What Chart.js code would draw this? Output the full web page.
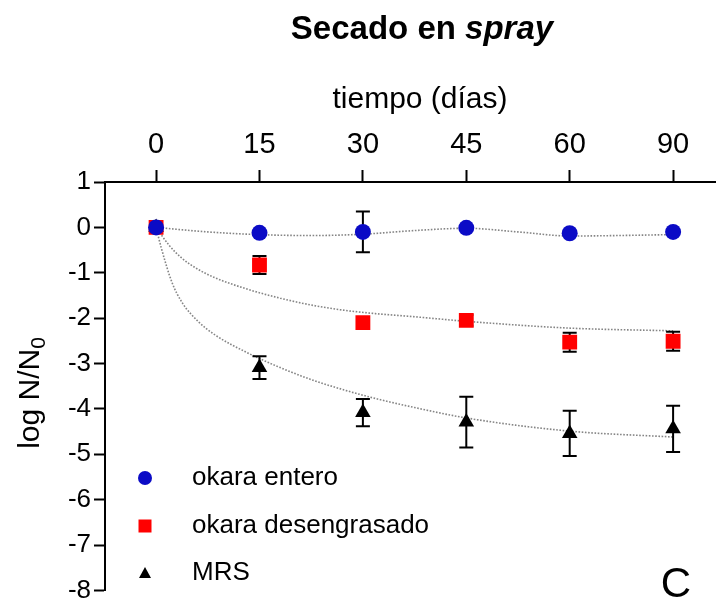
<!DOCTYPE html>
<html>
<head>
<meta charset="utf-8">
<script src="https://cdn.jsdelivr.net/npm/chart.js@4.4.1/dist/chart.umd.min.js"></script>
<style>
  html, body { margin: 0; padding: 0; background: #fff; }
  #wrap { width: 726px; height: 609px; }
</style>
</head>
<body>
<div id="wrap"><canvas id="c" width="726" height="609"></canvas></div>
<script>
// Storage time points (days) and y-axis ticks
const days = ['0', '15', '30', '45', '60', '90'];
const yTicks = [1, 0, -1, -2, -3, -4, -5, -6, -7, -8];

// Mean log N/N0 and error (±) for each medium
const okaraEntero = [0, -0.12, -0.10, -0.01, -0.13, -0.10];
const okaraEnteroErr = [0, 0, 0.45, 0, 0, 0];
const okaraDesengrasado = [0, -0.83, -2.10, -2.05, -2.53, -2.51];
const okaraDesengrasadoErr = [0, 0.20, 0, 0.12, 0.21, 0.21];
const mrs = [0, -3.09, -4.08, -4.29, -4.54, -4.44];
const mrsErr = [0, 0.25, 0.30, 0.56, 0.50, 0.51];

// Fitted inactivation curves (position on the time axis, log N/N0)
const fitEnteroX = [0, 0.5, 1, 1.5, 2, 2.5, 3, 3.5, 4, 5];
const fitEnteroY = [0, -0.10, -0.16, -0.18, -0.15, -0.07, -0.02, -0.10, -0.19, -0.16];
const fitDesengX = [0, 0.124, 0.25, 0.41, 0.57, 0.88, 1.2, 1.52, 1.83, 2.12, 2.5, 3, 4, 5];
const fitDesengY = [0, -0.39, -0.68, -0.93, -1.11, -1.36, -1.56, -1.72, -1.83, -1.90, -1.97, -2.07, -2.22, -2.28];
const fitMrsX = [0, 0.05, 0.155, 0.25, 0.41, 0.57, 0.88, 1.2, 1.52, 1.83, 2.12, 2.5, 3, 4, 5];
const fitMrsY = [0, -0.45, -1.22, -1.65, -2.08, -2.37, -2.76, -3.09, -3.37, -3.59, -3.77, -3.97, -4.20, -4.49, -4.62];

const FONT = '"Liberation Sans", Arial, Helvetica, sans-serif';
const BLUE = '#0b0bc6';
const RED = '#ff0000';
const BLACK = '#000000';

const pts = (ys) => ys.map((y, i) => ({ x: i, y }));
const curve = (xs, ys) => xs.map((x, i) => ({ x, y: ys[i] }));

const fitStyle = {
  showLine: true,
  pointRadius: 0,
  borderColor: 'rgba(120,120,120,0.9)',
  borderWidth: 1.6,
  borderDash: [1.6, 1.6],
  cubicInterpolationMode: 'monotone',
  fill: false
};

// Vertical error bars with caps, drawn beneath each marker series
const errorBars = {
  id: 'errorBars',
  beforeDatasetDraw(chart, args) {
    const ds = chart.data.datasets[args.index];
    if (!ds.errors) return;
    const ctx = chart.ctx;
    const ys = chart.scales.y;
    ctx.save();
    ctx.strokeStyle = '#000';
    ctx.lineWidth = 2;
    ds.data.forEach((p, i) => {
      const e = ds.errors[i];
      if (!e) return;
      const x = args.meta.data[i].x;
      const y1 = ys.getPixelForValue(p.y + e);
      const y2 = ys.getPixelForValue(p.y - e);
      ctx.beginPath();
      ctx.moveTo(x, y1); ctx.lineTo(x, y2);
      ctx.moveTo(x - 7, y1); ctx.lineTo(x + 7, y1);
      ctx.moveTo(x - 7, y2); ctx.lineTo(x + 7, y2);
      ctx.stroke();
    });
    ctx.restore();
  }
};

// Title, axis titles, in-plot legend and panel letter
const annotations = {
  id: 'annotations',
  afterDraw(chart) {
    const ctx = chart.ctx;
    ctx.save();
    ctx.fillStyle = '#000';
    ctx.textBaseline = 'alphabetic';

    // Title: "Secado en " bold + "spray" bold italic
    const a = 'Secado en ', b = 'spray';
    ctx.font = 'bold 33px ' + FONT;
    const wa = ctx.measureText(a).width;
    ctx.font = 'italic bold 33px ' + FONT;
    const wb = ctx.measureText(b).width;
    const x0 = 422 - (wa + wb) / 2;
    ctx.textAlign = 'left';
    ctx.font = 'bold 33px ' + FONT;
    ctx.fillText(a, x0, 39);
    ctx.font = 'italic bold 33px ' + FONT;
    ctx.fillText(b, x0 + wa, 39);

    // Top axis title
    ctx.font = '30px ' + FONT;
    ctx.textAlign = 'center';
    ctx.fillText('tiempo (días)', 420, 108);

    // Y axis title with subscript
    ctx.save();
    ctx.translate(39, 393);
    ctx.rotate(-Math.PI / 2);
    ctx.font = '30px ' + FONT;
    const main = 'log N/N';
    const wm = ctx.measureText(main).width;
    ctx.font = '21px ' + FONT;
    const ws = ctx.measureText('0').width;
    const sx = -(wm + ws) / 2;
    ctx.textAlign = 'left';
    ctx.font = '30px ' + FONT;
    ctx.fillText(main, sx, 0);
    ctx.font = '21px ' + FONT;
    ctx.fillText('0', sx + wm, 6);
    ctx.restore();

    // Legend
    const items = [
      { label: 'okara entero', shape: 'circle', color: BLUE, y: 478 },
      { label: 'okara desengrasado', shape: 'rect', color: RED, y: 526 },
      { label: 'MRS', shape: 'triangle', color: BLACK, y: 573 }
    ];
    items.forEach(it => {
      ctx.fillStyle = it.color;
      ctx.beginPath();
      if (it.shape === 'circle') {
        ctx.arc(145, it.y, 7, 0, Math.PI * 2);
      } else if (it.shape === 'rect') {
        ctx.rect(138.5, it.y - 6.5, 13, 13);
      } else {
        ctx.moveTo(145, it.y - 6);
        ctx.lineTo(151, it.y + 5);
        ctx.lineTo(139, it.y + 5);
        ctx.closePath();
      }
      ctx.fill();
      ctx.fillStyle = '#000';
      ctx.font = '26px ' + FONT;
      ctx.textAlign = 'left';
      ctx.textBaseline = 'middle';
      ctx.fillText(it.label, 192, it.y);
    });

    // Panel letter
    ctx.textBaseline = 'alphabetic';
    ctx.textAlign = 'center';
    ctx.font = '42px ' + FONT;
    ctx.fillText('C', 676, 597);
    ctx.restore();
  }
};

new Chart(document.getElementById('c'), {
  type: 'scatter',
  data: {
    datasets: [
      {
        label: 'okara entero', data: pts(okaraEntero), errors: okaraEnteroErr,
        pointStyle: 'circle', pointRadius: 8, pointHoverRadius: 8,
        backgroundColor: BLUE, borderColor: BLUE, borderWidth: 0
      },
      {
        label: 'okara desengrasado', data: pts(okaraDesengrasado), errors: okaraDesengrasadoErr,
        pointStyle: 'rect', pointRadius: 10.5, pointHoverRadius: 10.5,
        backgroundColor: RED, borderColor: RED, borderWidth: 0
      },
      {
        label: 'MRS', data: pts(mrs), errors: mrsErr,
        pointStyle: 'triangle', pointRadius: 9, pointHoverRadius: 9,
        backgroundColor: BLACK, borderColor: BLACK, borderWidth: 0
      },
      Object.assign({ label: 'fit okara entero', data: curve(fitEnteroX, fitEnteroY) }, fitStyle),
      Object.assign({ label: 'fit okara desengrasado', data: curve(fitDesengX, fitDesengY) }, fitStyle),
      Object.assign({ label: 'fit MRS', data: curve(fitMrsX, fitMrsY) }, fitStyle)
    ]
  },
  options: {
    responsive: false,
    animation: false,
    devicePixelRatio: 1,
    layout: { padding: { left: 0, top: 0, right: 0, bottom: 9 } },
    plugins: { legend: { display: false }, title: { display: false }, tooltip: { enabled: false } },
    scales: {
      x: {
        type: 'linear',
        position: 'top',
        min: -0.494,
        max: 5.41,
        afterBuildTicks: (s) => { s.ticks = days.map((d, i) => ({ value: i })); },
        afterFit: (s) => { s.height = 182; },
        ticks: {
          callback: (v, i) => days[i],
          font: { family: FONT, size: 29 },
          color: '#000',
          padding: 8,
          maxRotation: 0,
          autoSkip: false
        },
        grid: { display: true, drawOnChartArea: false, drawTicks: true, tickLength: 12, tickWidth: 2, tickColor: '#000' },
        border: { display: true, color: '#000', width: 2 }
      },
      y: {
        type: 'linear',
        min: -8,
        max: 1,
        afterBuildTicks: (s) => { s.ticks = yTicks.map(v => ({ value: v })); },
        afterFit: (s) => { s.width = 105; },
        ticks: {
          callback: (v) => String(v),
          font: { family: FONT, size: 26 },
          color: '#000',
          padding: 3,
          autoSkip: false
        },
        grid: { display: true, drawOnChartArea: false, drawTicks: true, tickLength: 11, tickWidth: 2, tickColor: '#000' },
        border: { display: true, color: '#000', width: 2 }
      }
    }
  },
  plugins: [errorBars, annotations]
});
</script>
</body>
</html>
